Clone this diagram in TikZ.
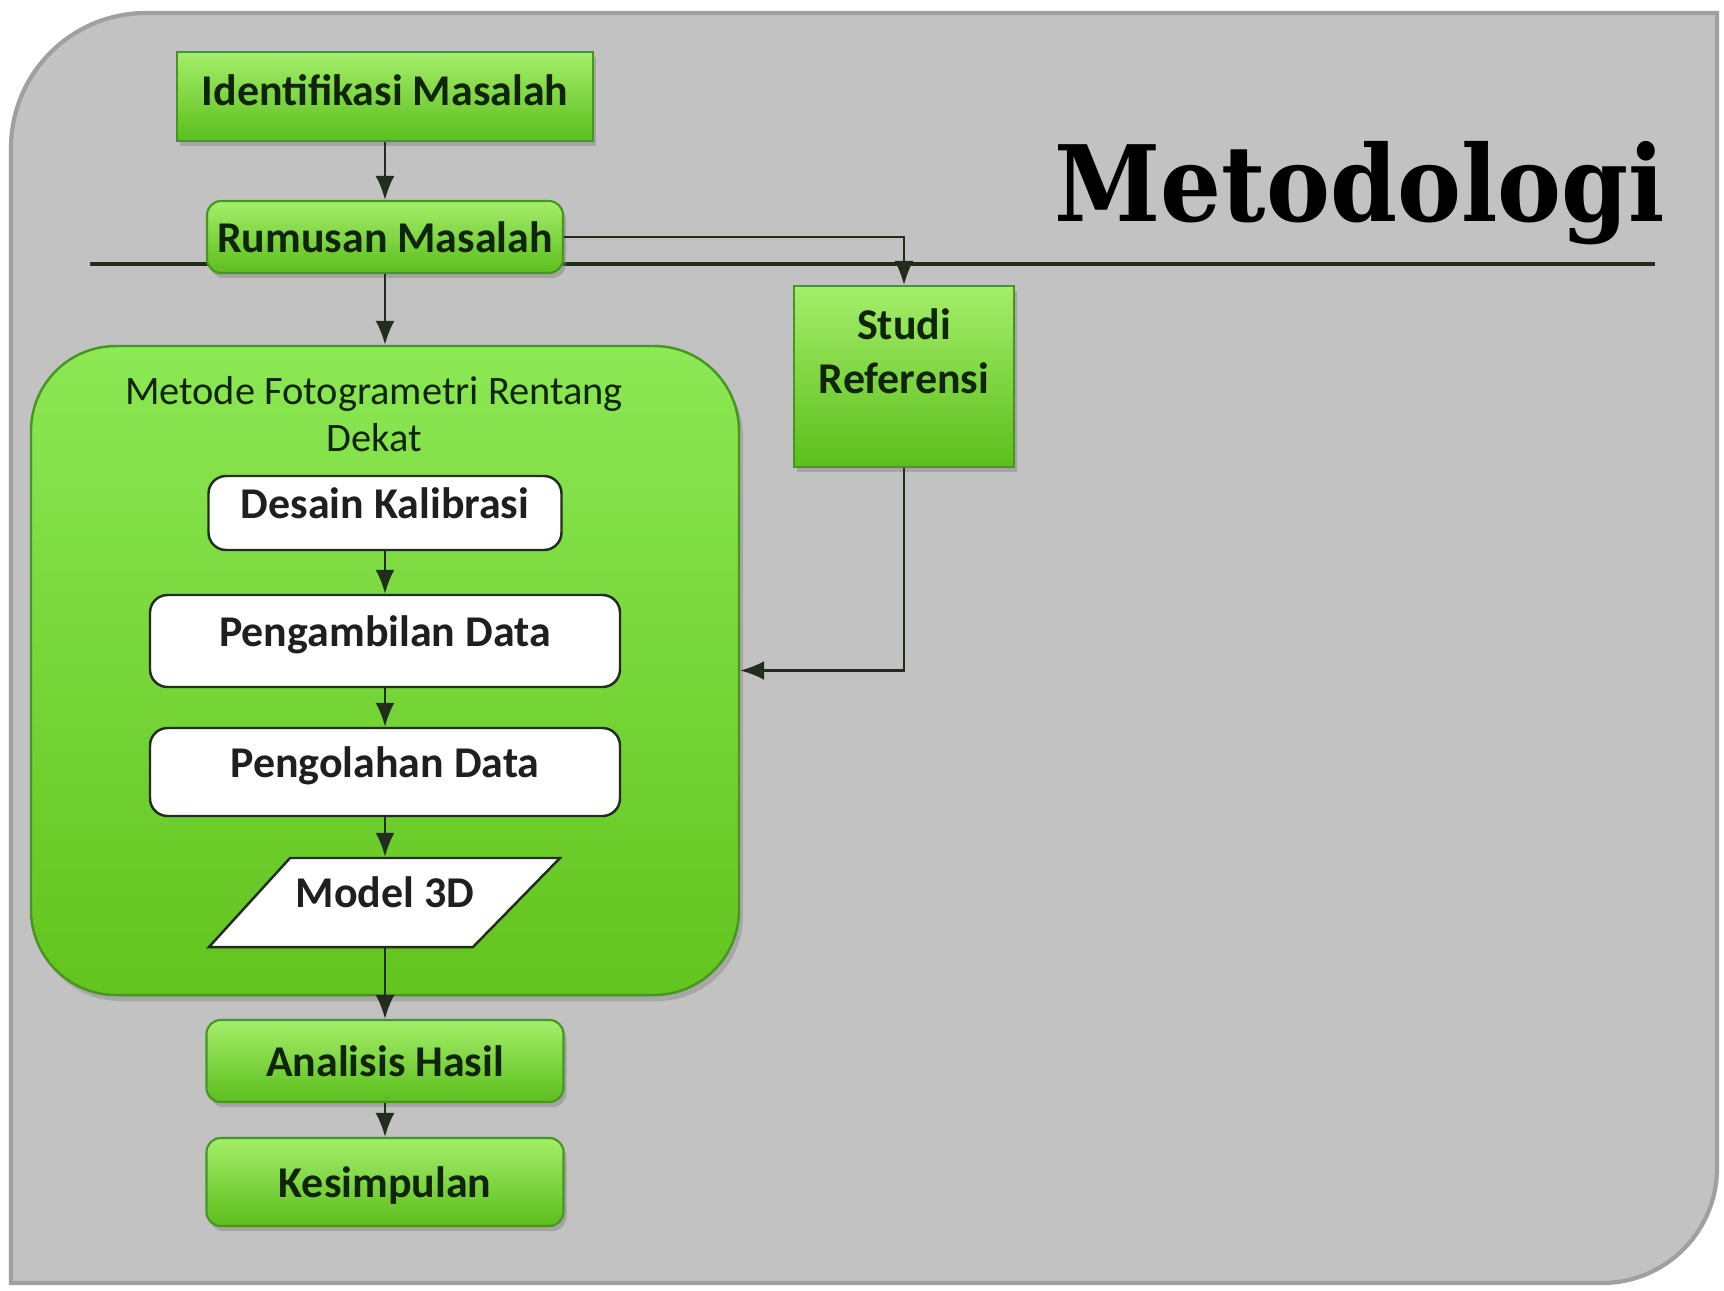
\documentclass[tikz,border=0pt]{standalone}
\usepackage{fontspec}
\setmainfont{Carlito}
\newfontfamily\judulfont{DejaVu Serif}
\usetikzlibrary{shadows,arrows.meta}

\definecolor{abu}{RGB}{194,194,194}
\definecolor{abutepi}{RGB}{160,160,160}
\definecolor{hijaumuda}{RGB}{164,238,106}
\definecolor{hijautua}{RGB}{92,190,28}
\definecolor{grupmuda}{RGB}{140,232,84}
\definecolor{gruptua}{RGB}{98,196,30}
\definecolor{hijaugaris}{RGB}{72,150,34}
\definecolor{teks}{RGB}{16,36,8}
\definecolor{garis}{RGB}{35,45,30}

\tikzset{
  kotakhijau/.style={draw=hijaugaris, line width=0.6pt, rounded corners=4pt,
    top color=hijaumuda, bottom color=hijautua, text=teks,
    font=\fontsize{12.5}{15}\selectfont\bfseries,
    drop shadow={shadow xshift=0.03cm, shadow yshift=-0.05cm, opacity=0.45},
    text height=0.32cm, text depth=0.02cm, inner sep=0pt},
  kotakputih/.style={draw=garis, line width=0.7pt, rounded corners=5pt,
    fill=white, text=black!88, font=\fontsize{12.5}{15}\selectfont\bfseries,
    text height=0.32cm, text depth=0.22cm, inner sep=0pt},
  grup/.style={draw=hijaugaris, line width=0.7pt, rounded corners=0.85cm,
    top color=grupmuda, bottom color=gruptua,
    drop shadow={shadow xshift=0.04cm, shadow yshift=-0.06cm, opacity=0.4}},
  panah/.style={->, draw=garis, line width=0.7pt}
}

\begin{document}
\begin{tikzpicture}[>={Latex[length=2.4mm,width=1.9mm]}]
\useasboundingbox (0,0) rectangle (17.24,-12.90);

\fill[white] (0,0) rectangle (17.24,-12.90);
\draw[fill=abu, draw=abutepi, line width=1.2pt] (0.11,-12.83) -- (0.11,-1.48)
  arc[start angle=180, end angle=90, radius=1.35] -- (17.17,-0.13) -- (17.17,-11.68)
  arc[start angle=0, end angle=-90, radius=1.15] -- cycle;

\coordinate (garisL) at (0.90,-2.64);
\coordinate (garisR) at (16.55,-2.64);
\draw[garis, line width=0.9pt] (garisL) -- (garisR);

\node[font=\judulfont\bfseries\fontsize{30}{36}\selectfont, anchor=base] (judul) at (13.60,-2.21)
  {\scalebox{0.91}[1]{Metodologi}};

\node[grup, minimum width=7.08cm, minimum height=6.49cm] (grp) at (3.85,-6.705) {};
\node[text=teks, font=\fontsize{11.5}{13.4}\selectfont, align=center] (grpjudul) at (3.74,-4.14)
  {Metode Fotogrametri Rentang\\Dekat};

\node[kotakputih, minimum width=3.53cm, minimum height=0.74cm] (desain) at (3.85,-5.13) {Desain Kalibrasi};
\node[kotakputih, minimum width=4.70cm, minimum height=0.92cm] (ambil) at (3.85,-6.41) {Pengambilan Data};
\node[kotakputih, minimum width=4.70cm, minimum height=0.88cm] (olah) at (3.85,-7.72) {Pengolahan Data};
\draw[garis, fill=white, line width=0.7pt] (2.09,-9.47) -- (2.90,-8.58) -- (5.60,-8.58) -- (4.73,-9.47) -- cycle;
\node[kotakputih, draw=none, fill=none, minimum width=2.6cm, minimum height=0.89cm] (model) at (3.85,-9.025) {Model 3D};

\node[kotakhijau, sharp corners, text depth=0.14cm, minimum width=4.16cm, minimum height=0.89cm] (ident) at (3.85,-0.965) {Identifikasi Masalah};
\node[kotakhijau, minimum width=3.56cm, minimum height=0.72cm] (rumus) at (3.85,-2.37) {Rumusan Masalah};
\node[kotakhijau, sharp corners, minimum width=2.20cm, minimum height=1.81cm] (studi) at (9.04,-3.765) {};
\node[text=teks, font=\fontsize{12.5}{15.4}\selectfont\bfseries, align=center] (studijudul) at (9.04,-3.51)
  {Studi\\Referensi};
\node[kotakhijau, minimum width=3.57cm, minimum height=0.82cm] (analisis) at (3.85,-10.61) {Analisis Hasil};
\node[kotakhijau, minimum width=3.57cm, minimum height=0.88cm] (simpul) at (3.85,-11.82) {Kesimpulan};

\draw[panah] (ident) -- (rumus);
\draw[panah] (rumus) -- (grp);
\draw[panah] (rumus.east) -| (studi.north);
\draw[panah] (studi.south) |- (grp.east);
\draw[panah] (desain) -- (ambil);
\draw[panah] (ambil) -- (olah);
\draw[panah] (olah) -- (model);
\draw[panah] (model) -- (analisis);
\draw[panah] (analisis) -- (simpul);

\end{tikzpicture}
\end{document}
